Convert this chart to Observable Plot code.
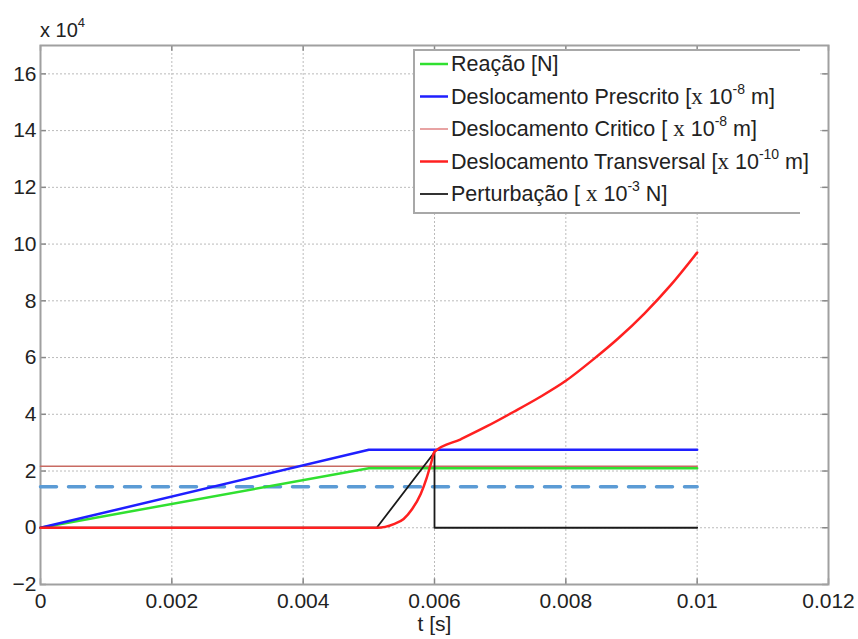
<!DOCTYPE html>
<html><head><meta charset="utf-8">
<script src="https://cdn.jsdelivr.net/npm/d3@7"></script>
<script src="https://cdn.jsdelivr.net/npm/@observablehq/plot@0.6"></script>
<style>
body{margin:0;background:#fff;}
#chart{width:858px;height:639px;}
</style></head><body><div id="chart"></div>
<script>
// ---- data ----
const xTicks = [0, 0.002, 0.004, 0.006, 0.008, 0.01, 0.012];
const xTickLabels = ["0", "0.002", "0.004", "0.006", "0.008", "0.01", "0.012"];
const yTicks = [-2, 0, 2, 4, 6, 8, 10, 12, 14, 16];

const tRamp = [0, 0.005, 0.01];
const reacao = [0, 2.1, 2.1];
const prescrito = [0, 2.75, 2.75];

const tFlat = [0, 0.01];
const critico = [2.17, 2.17];
const tracejado = [1.45, 1.45];

const tTransv = [0, 0.0025, 0.00513, 0.00538, 0.00553, 0.00566, 0.00579, 0.00588, 0.00595, 0.006, 0.0064, 0.0068, 0.0072, 0.0076, 0.008, 0.0084, 0.0088, 0.0092, 0.0096, 0.01];
const transversal = [0, 0, 0, 0.13, 0.31, 0.66, 1.19, 1.75, 2.3, 2.68, 3.12, 3.58, 4.08, 4.6, 5.18, 5.9, 6.68, 7.56, 8.56, 9.7];

const tPert = [0, 0.00512, 0.006, 0.006, 0.01];
const perturbacao = [0, 0, 2.66, 0, 0];

const legendNames = ["Reação [N]", "Deslocamento Prescrito [", "Deslocamento Critico [ ", "Deslocamento Transversal [", "Perturbação [ "];
const legendExp = [null, "-8", "-8", "-10", "-3"];
const legendUnit = [null, " m]", " m]", " m]", " N]"];
const legendColors = ["#30e030", "#1f1fff", "#e08585", "#ff2020", "#333333"];
const legendWidths = [2.5, 2.5, 1.5, 2.5, 2];

const zip = (xs, ys) => xs.map((x, i) => ({x, y: ys[i]}));

const plot = Plot.plot({
  width: 858,
  height: 639,
  marginLeft: 40,
  marginRight: 30,
  marginTop: 45,
  marginBottom: 55,
  style: {fontFamily: "'Liberation Sans', Arial, sans-serif", fontSize: "21px", color: "#222", background: "#fff"},
  x: {domain: [0, 0.012]},
  y: {domain: [-2, 17]},
  marks: [
    Plot.gridX(xTicks, {stroke: "#bbb", strokeOpacity: 1, strokeDasharray: "2,2"}),
    Plot.gridY(yTicks, {stroke: "#bbb", strokeOpacity: 1, strokeDasharray: "2,2"}),
    // inward tick marks on all four sides
    Plot.ruleX(xTicks, {y1: -2, y2: -1.8, stroke: "#888", strokeWidth: 1.5}),
    Plot.ruleX(xTicks, {y1: 17, y2: 16.8, stroke: "#888", strokeWidth: 1.5}),
    Plot.ruleY(yTicks, {x1: 0, x2: 0.00009, stroke: "#888", strokeWidth: 1.5}),
    Plot.ruleY(yTicks, {x1: 0.012, x2: 0.01191, stroke: "#888", strokeWidth: 1.5}),
    Plot.axisX(xTicks, {anchor: "bottom", tickSize: 0, tickPadding: 9, tickFormat: (d, i) => xTickLabels[i], label: null, fontSize: 21}),
    Plot.axisY(yTicks, {anchor: "left", tickSize: 0, tickPadding: 4, label: null, fontSize: 21}),
    Plot.frame({stroke: "#a0a0a0", strokeWidth: 2}),
    Plot.line(zip(tFlat, tracejado), {x: "x", y: "y", stroke: "#5b9bd5", strokeWidth: 3.5, strokeDasharray: "16,12"}),
    Plot.line(zip(tRamp, reacao), {x: "x", y: "y", stroke: legendColors[0], strokeWidth: 2.5}),
    Plot.line(zip(tFlat, critico), {x: "x", y: "y", stroke: "#c86a62", strokeWidth: 1.6}),
    Plot.line(zip(tRamp, prescrito), {x: "x", y: "y", stroke: legendColors[1], strokeWidth: 2.5}),
    Plot.line(zip(tPert, perturbacao), {x: "x", y: "y", stroke: "#1a1a1a", strokeWidth: 1.8}),
    Plot.line(zip(tTransv, transversal), {x: "x", y: "y", stroke: legendColors[3], strokeWidth: 2.5, curve: "monotone-x"}),
    Plot.text(["t [s]"], {frameAnchor: "bottom", dy: 46, fontSize: 21, fill: "#222"})
  ]
});
document.getElementById("chart").appendChild(plot);

// ---- annotations: exponent label and legend ----
const svg = d3.select(plot);
const ex = svg.append("text").attr("x", 40).attr("y", 37).attr("fill", "#222").attr("font-size", 20).attr("text-anchor", "start");
ex.append("tspan").text("x 10");
ex.append("tspan").attr("font-size", 13).attr("dy", -10).text("4");

const lg = svg.append("g").attr("text-anchor", "start");
lg.append("rect").attr("x", 414).attr("y", 50).attr("width", 404).attr("height", 163).attr("fill", "#fff");
lg.append("path").attr("d", "M800,50H414V213H800").attr("fill", "none").attr("stroke", "#a8a8a8").attr("stroke-width", 2);
legendNames.forEach((name, i) => {
  const y = 64 + i * 32.5;
  lg.append("line").attr("x1", 420).attr("x2", 448).attr("y1", y).attr("y2", y)
    .attr("stroke", legendColors[i]).attr("stroke-width", legendWidths[i]);
  const t = lg.append("text").attr("x", 451).attr("y", y + 7).attr("font-size", 21.5).attr("fill", "#222").attr("text-anchor", "start");
  t.append("tspan").text(name);
  if (legendExp[i]) {
    t.append("tspan").attr("font-family", "'Liberation Serif', serif").attr("font-size", 23).text("x");
    t.append("tspan").text(" 10");
    t.append("tspan").attr("font-size", 14).attr("dy", -10).text(legendExp[i]);
    t.append("tspan").attr("dy", 10).text(legendUnit[i]);
  }
});
</script>
</body></html>
